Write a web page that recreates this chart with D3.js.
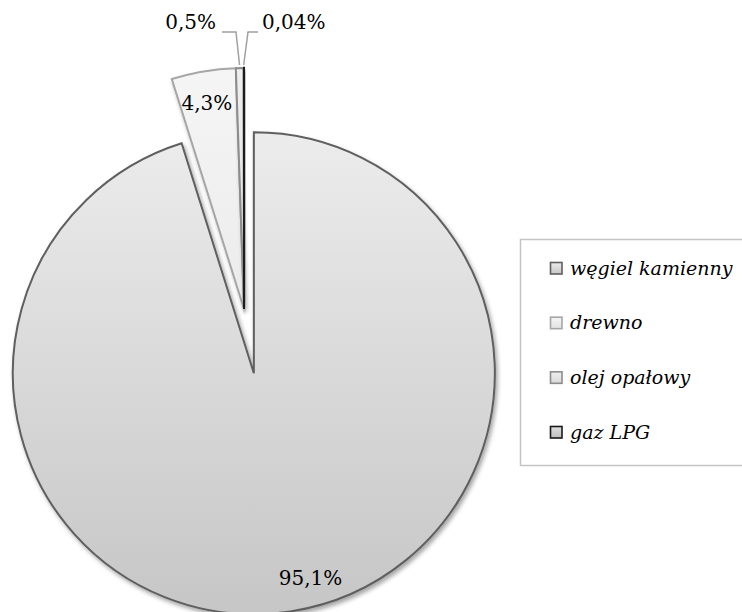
<!DOCTYPE html>
<html>
<head>
<meta charset="utf-8">
<script src="https://cdn.jsdelivr.net/npm/d3@7"></script>
<style>
  html, body { margin: 0; padding: 0; background: #fff; }
  svg { display: block; }
</style>
</head>
<body>
<svg id="chart" width="742" height="612"></svg>
<script>
// Fuel types and their share (%)
const categories = ["węgiel kamienny", "drewno", "olej opałowy", "gaz LPG"];
const shares = [95.1, 4.3, 0.5, 0.04];

// Slice styling per category
const strokeColors = ["#5f5f5f", "#a6a6a6", "#8c8c8c", "#1a1a1a"];
const fillTop = ["#ececec", "#f5f5f5", "#eeeeee", "#e0e0e0"];
const fillBottom = ["#c6c6c6", "#e2e2e2", "#dadada", "#bdbdbd"];

const svg = d3.select("#chart");

const center = { x: 244, y: 309 };
const R = 241;
const explode = [65, 0, 0, 0];

const fmt = v => String(v).replace(".", ",") + "%";

const defs = svg.append("defs");
const shadow = defs.append("filter").attr("id", "shadow")
  .attr("x", "-10%").attr("y", "-10%").attr("width", "130%").attr("height", "130%");
shadow.append("feDropShadow").attr("dx", 2).attr("dy", 3)
  .attr("stdDeviation", 2.2).attr("flood-color", "#000").attr("flood-opacity", 0.35);

// Vertical gradient per slice, spanning the slice's own disc (slice-local coordinates)
categories.forEach((c, i) => {
  const g = defs.append("linearGradient").attr("id", "grad" + i)
    .attr("gradientUnits", "userSpaceOnUse")
    .attr("x1", 0).attr("y1", -R).attr("x2", 0).attr("y2", R);
  g.append("stop").attr("offset", "0%").attr("stop-color", fillTop[i]);
  g.append("stop").attr("offset", "100%").attr("stop-color", fillBottom[i]);

  const lg = defs.append("linearGradient").attr("id", "legGrad" + i)
    .attr("x1", 0).attr("y1", 0).attr("x2", 0).attr("y2", 1);
  lg.append("stop").attr("offset", "0%").attr("stop-color", fillTop[i]);
  lg.append("stop").attr("offset", "100%").attr("stop-color", fillBottom[i]);
});

const pie = d3.pie().sort(null).value(d => d);
const arcs = pie(shares);
const arc = d3.arc().innerRadius(0).outerRadius(R);

const offsetOf = (a, i) => {
  const m = (a.startAngle + a.endAngle) / 2;
  return [explode[i] * Math.sin(m), -explode[i] * Math.cos(m)];
};

const pieG = svg.append("g").attr("transform", `translate(${center.x},${center.y})`);

pieG.selectAll("g.slice")
  .data(arcs)
  .join("g")
  .attr("class", "slice")
  .attr("transform", (a, i) => { const o = offsetOf(a, i); return `translate(${o[0]},${o[1]})`; })
  .append("path")
  .attr("d", arc)
  .attr("fill", (a, i) => `url(#grad${i})`)
  .attr("stroke", (a, i) => strokeColors[i])
  .attr("stroke-width", (a, i) => i === 3 ? 2.6 : 2)
  .attr("filter", "url(#shadow)");

// Inside labels: polar placement (angle in degrees, radius fraction)
const insidePos = { 0: [164.5, 0.88], 1: [349.8, 0.87] };
const labelFont = "'DejaVu Serif', serif";

Object.keys(insidePos).forEach(k => {
  const i = +k;
  const o = offsetOf(arcs[i], i);
  const ang = insidePos[k][0] * Math.PI / 180;
  const r = insidePos[k][1] * R;
  pieG.append("text")
    .attr("x", o[0] + r * Math.sin(ang))
    .attr("y", o[1] - r * Math.cos(ang))
    .attr("dy", "0.35em")
    .attr("text-anchor", "middle")
    .attr("font-family", labelFont)
    .attr("font-size", 20)
    .attr("fill", "#000")
    .text(fmt(shares[i]));
});

// Outside labels with leader lines for the thin slices
const outside = [
  { i: 2, elbowX: 236, endX: 222, anchor: "end", tx: 216 },
  { i: 3, elbowX: 248, endX: 258, anchor: "start", tx: 262 }
];
const lineY = 32;
outside.forEach(d => {
  const a = arcs[d.i];
  const m = (a.startAngle + a.endAngle) / 2;
  const px = center.x + (R + 3) * Math.sin(m);
  const py = center.y - (R + 3) * Math.cos(m);
  svg.append("path")
    .attr("d", `M${px},${py}L${d.elbowX},${lineY}L${d.endX},${lineY}`)
    .attr("fill", "none")
    .attr("stroke", "#a0a0a0")
    .attr("stroke-width", 1.5);
  svg.append("text")
    .attr("x", d.tx)
    .attr("y", lineY - 3)
    .attr("text-anchor", d.anchor)
    .attr("font-family", labelFont)
    .attr("font-size", 20)
    .attr("fill", "#000")
    .text(fmt(shares[d.i]));
});

// Legend
const legend = svg.append("g");
legend.append("rect")
  .attr("x", 520.5).attr("y", 239.5)
  .attr("width", 240).attr("height", 226)
  .attr("fill", "#fff")
  .attr("stroke", "#c4c4c4")
  .attr("stroke-width", 1.5);

const ly = d3.scalePoint().domain(categories).range([268, 432]);
const items = legend.selectAll("g.item").data(categories).join("g")
  .attr("class", "item")
  .attr("transform", d => `translate(550,${ly(d)})`);

items.append("rect")
  .attr("x", 0.5).attr("y", -5.5)
  .attr("width", 11.5).attr("height", 11.5)
  .attr("fill", (d, i) => `url(#legGrad${i})`)
  .attr("stroke", (d, i) => strokeColors[i])
  .attr("stroke-width", 1.6);

items.append("text")
  .attr("x", 20)
  .attr("y", 0)
  .attr("dy", "0.35em")
  .attr("font-family", labelFont)
  .attr("font-style", "italic")
  .attr("font-size", 19)
  .attr("fill", "#000")
  .text(d => d);
</script>
</body>
</html>
